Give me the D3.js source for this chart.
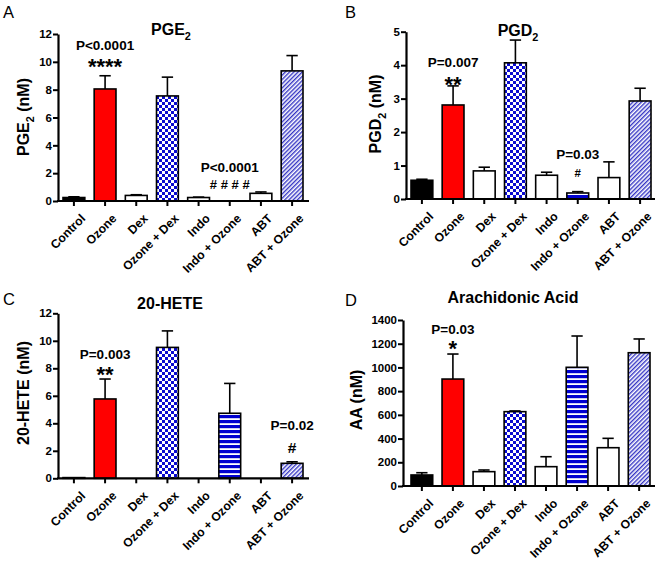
<!DOCTYPE html>
<html><head><meta charset="utf-8">
<script src="https://cdn.jsdelivr.net/npm/d3@7"></script>
<style>
body{margin:0;background:#fff}
svg{display:block}
text{font-family:"Liberation Sans",Arial,Helvetica,sans-serif}
</style>
</head><body>
<svg id="chart" width="661" height="563"></svg>
<script>
// ---------- data ----------
const categories = ["Control","Ozone","Dex","Ozone + Dex","Indo","Indo + Ozone","ABT","ABT + Ozone"];

const pge2Mean = [0.25, 8.05, 0.40, 7.55, 0.25, 0, 0.55, 9.35];
const pge2Sem  = [0.05, 0.95, 0.05, 1.35, 0.03, 0, 0.10, 1.10];
const pge2Ticks = [0,2,4,6,8,10,12];

const pgd2Mean = [0.56, 2.81, 0.84, 4.07, 0.71, 0.18, 0.64, 2.93];
const pgd2Sem  = [0.03, 0.57, 0.11, 0.68, 0.09, 0.04, 0.47, 0.38];
const pgd2Ticks = [0,1,2,3,4,5];

const heteMean = [0.05, 5.77, 0, 9.52, 0, 4.73, 0, 1.09];
const heteSem  = [0, 1.45, 0, 1.20, 0, 2.17, 0, 0.11];
const heteTicks = [0,2,4,6,8,10,12];

const aaMean = [93, 902, 121, 627, 163, 1001, 323, 1124];
const aaSem  = [19, 211, 14, 6, 84, 264, 79, 116];
const aaTicks = [0,200,400,600,800,1000,1200,1400];

const pge2Ann = [{cat:"Ozone", p:"P<0.0001", mark:"****"}, {cat:"Indo + Ozone", p:"P<0.0001", mark:"# # # #"}];
const pgd2Ann = [{cat:"Ozone", p:"P=0.007", mark:"**"}, {cat:"Indo + Ozone", p:"P=0.03", mark:"#"}];
const heteAnn = [{cat:"Ozone", p:"P=0.003", mark:"**"}, {cat:"ABT + Ozone", p:"P=0.02", mark:"#"}];
const aaAnn   = [{cat:"Ozone", p:"P=0.03", mark:"*"}];

// ---------- styles ----------
const fills = ["#000000","#ff0000","#ffffff","url(#checker)","#ffffff","url(#stripes)","#ffffff","url(#hatch)"];
const FONT_TICK = 11.5, FONT_X = 12.2, FONT_LAB = 16, FONT_TITLE = 16, FONT_ANN = 13.5;

const svg = d3.select("#chart");
const defs = svg.append("defs");
// checkerboard
const chk = defs.append("pattern").attr("id","checker").attr("patternUnits","userSpaceOnUse")
  .attr("width",6).attr("height",6);
chk.append("rect").attr("width",6).attr("height",6).attr("fill","#ffffff");
chk.append("rect").attr("x",0).attr("y",0).attr("width",3).attr("height",3).attr("fill","#0a0ad0");
chk.append("rect").attr("x",3).attr("y",3).attr("width",3).attr("height",3).attr("fill","#0a0ad0");
// horizontal stripes
const str = defs.append("pattern").attr("id","stripes").attr("patternUnits","userSpaceOnUse")
  .attr("width",5).attr("height",5);
str.append("rect").attr("width",5).attr("height",5).attr("fill","#ffffff");
str.append("rect").attr("y",0).attr("width",5).attr("height",3.2).attr("fill","#0000d0");
// diagonal hatch
const hat = defs.append("pattern").attr("id","hatch").attr("patternUnits","userSpaceOnUse")
  .attr("width",3).attr("height",3).attr("patternTransform","rotate(45)");
hat.append("rect").attr("width",3).attr("height",3).attr("fill","#ffffff");
hat.append("rect").attr("x",0).attr("width",1.4).attr("height",3).attr("fill","#3535c4");

// ---------- panels (layout) ----------
const panels = [
  {letter:"A", title:["PGE","2",""], ylab:["PGE","2"," (nM)"], mean:pge2Mean, sem:pge2Sem, ticks:pge2Ticks, ann:pge2Ann,
   L:{axisX:58, axisR:309, barL:63, barR:303, yTop:34, yBot:201, titleX:171, titleY:35, ylX:29, ylY:117, letX:3, letY:18},
   annY:[[50,74,22],[172,189,13]]},
  {letter:"B", title:["PGD","2",""], ylab:["PGD","2"," (nM)"], mean:pgd2Mean, sem:pgd2Sem, ticks:pgd2Ticks, ann:pgd2Ann,
   L:{axisX:406, axisR:655, barL:411, barR:651, yTop:31.7, yBot:199, titleX:518, titleY:36, ylX:381, ylY:114, letX:345, letY:18},
   annY:[[67,92,22],[159,177,11.5]]},
  {letter:"C", title:["20-HETE","",""], ylab:["20-HETE","", " (nM)"], mean:heteMean, sem:heteSem, ticks:heteTicks, ann:heteAnn,
   L:{axisX:58, axisR:309, barL:63, barR:303, yTop:313.3, yBot:478.3, titleX:170, titleY:309, ylX:29, ylY:393, letX:3, letY:305},
   annY:[[359,382,22],[430,453,15.5]]},
  {letter:"D", title:["Arachidonic Acid","",""], ylab:["AA","", " (nM)"], mean:aaMean, sem:aaSem, ticks:aaTicks, ann:aaAnn,
   L:{axisX:403, axisR:655, barL:411, barR:650, yTop:320, yBot:486, titleX:513, titleY:303, ylX:362, ylY:400, letX:345, letY:306},
   annY:[[334,356,22]]}
];

function addSubText(sel, parts, size){
  sel.append("tspan").text(parts[0]);
  if (parts[1]) {
    sel.append("tspan").attr("dy", size*0.3).attr("font-size", size*0.68).text(parts[1]);
    if (parts[2]) sel.append("tspan").attr("dy", -size*0.3).text(parts[2]);
  } else if (parts[2]) sel.append("tspan").text(parts[2]);
}

panels.forEach(P => {
  const L = P.L;
  const g = svg.append("g");
  const x = d3.scaleBand().domain(categories).range([L.barL, L.barR]).paddingInner(0.3).paddingOuter(0);
  const y = d3.scaleLinear().domain([P.ticks[0], P.ticks[P.ticks.length-1]]).range([L.yBot, L.yTop]);
  const bw = x.bandwidth();

  g.append("text").attr("x",L.letX).attr("y",L.letY).attr("font-size",16.5).text(P.letter);
  const t = g.append("text").attr("x",L.titleX).attr("y",L.titleY).attr("text-anchor","middle")
    .attr("font-size",FONT_TITLE).attr("font-weight","bold");
  addSubText(t, P.title, FONT_TITLE);
  const yl = g.append("text").attr("transform",`translate(${L.ylX},${L.ylY}) rotate(-90)`)
    .attr("text-anchor","middle").attr("font-size",FONT_LAB).attr("font-weight","bold");
  addSubText(yl, P.ylab, FONT_LAB);

  const data = categories.map((c,i)=>({c, m:P.mean[i], s:P.sem[i], f:fills[i]}));
  g.selectAll("rect.bar").data(data.filter(d=>d.m>0)).join("rect")
    .attr("x", d=>x(d.c)).attr("width", bw)
    .attr("y", d=>y(d.m)).attr("height", d=>y(0)-y(d.m))
    .attr("fill", d=>d.f).attr("stroke","#000").attr("stroke-width",1.6);

  const eb = data.filter(d=>d.s>0);
  g.selectAll("line.err").data(eb).join("line")
    .attr("x1", d=>x(d.c)+bw/2).attr("x2", d=>x(d.c)+bw/2)
    .attr("y1", d=>y(d.m)).attr("y2", d=>y(d.m+d.s))
    .attr("stroke","#000").attr("stroke-width",1.6);
  g.selectAll("line.cap").data(eb).join("line")
    .attr("x1", d=>x(d.c)+bw/2-bw*0.26).attr("x2", d=>x(d.c)+bw/2+bw*0.26)
    .attr("y1", d=>y(d.m+d.s)).attr("y2", d=>y(d.m+d.s))
    .attr("stroke","#000").attr("stroke-width",1.6);

  const ya = g.append("g").attr("transform",`translate(${L.axisX},0)`)
    .call(d3.axisLeft(y).tickValues(P.ticks).tickSize(5).tickSizeOuter(0).tickPadding(1).tickFormat(d3.format("d")));
  ya.select(".domain").attr("stroke-width",2.2);
  ya.selectAll(".tick line").attr("stroke-width",2);
  ya.selectAll(".tick text").attr("font-size",FONT_TICK).attr("font-weight","bold")
    .attr("font-family",'"Liberation Sans",Arial,sans-serif').attr("fill","#000");

  g.append("line").attr("x1",L.axisX-1).attr("x2",L.axisR).attr("y1",L.yBot).attr("y2",L.yBot)
    .attr("stroke","#000").attr("stroke-width",2.2);
  g.selectAll("line.xt").data(categories).join("line")
    .attr("x1", c=>x(c)+bw/2).attr("x2", c=>x(c)+bw/2)
    .attr("y1", L.yBot).attr("y2", L.yBot+5).attr("stroke","#000").attr("stroke-width",2);
  g.selectAll("text.xl").data(categories).join("text")
    .attr("transform", c=>`translate(${x(c)+bw/2+6},${L.yBot+12}) rotate(-45)`)
    .attr("text-anchor","end").attr("dy","0.72em")
    .attr("font-size",FONT_X).attr("font-weight","bold").text(c=>c);

  P.ann.forEach((a,i)=>{
    const cx = x(a.cat)+bw/2;
    const [pY, mY, mS] = P.annY[i];
    g.append("text").attr("x",cx).attr("y",pY).attr("text-anchor","middle")
      .attr("font-size",FONT_ANN).attr("font-weight","bold").text(a.p);
    g.append("text").attr("x",cx).attr("y",mY).attr("text-anchor","middle")
      .attr("font-size",mS).attr("font-weight","bold").text(a.mark);
  });
});
</script>
</body></html>
